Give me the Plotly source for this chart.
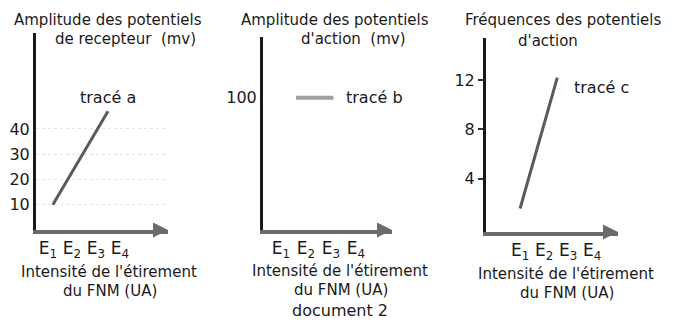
import plotly.graph_objects as go

# The page has an 8px body margin, so the figure is drawn 8px in from the
# top-left corner; the figure is sized to fit the 675x329 window.
OFF = 8
W, H = 675 - 2 * OFF, 329 - 2 * OFF

# ---- data ----
x_ticks = [1, 2, 3, 4]
x_ticktext = ["E<sub>1</sub>", "E<sub>2</sub>", "E<sub>3</sub>", "E<sub>4</sub>"]

a_x = [1.2, 3.5]
a_y = [10, 47]
a_ticks = [10, 20, 30, 40]

b_x = [1.6, 3.1]
b_y = [100, 100]
b_ticks = [100]

c_x = [1.0, 2.55]
c_y = [1.6, 12.2]
c_ticks = [4, 8, 12]

titles = [
    ("Amplitude des potentiels", "de recepteur  (mv)"),
    ("Amplitude des potentiels", "d'action  (mv)"),
    ("Fréquences des potentiels", "d'action"),
]
xtitle = ("Intensité de l'étirement", "du FNM (UA)")
trace_names = ["tracé a", "tracé b", "tracé c"]
caption = "document 2"

FONT = "DejaVu Sans"
TXT = "#1a1a1a"


def px(x):
    return (x - OFF) / W


def py(y):
    return 1 - (y - OFF) / H


fig = go.Figure()
fig.add_trace(go.Scatter(x=a_x, y=a_y, mode="lines", line=dict(color="#5a5a5a", width=3),
                         xaxis="x", yaxis="y", showlegend=False))
fig.add_trace(go.Scatter(x=b_x, y=b_y, mode="lines", line=dict(color="#a0a0a0", width=4),
                         xaxis="x2", yaxis="y2", showlegend=False))
fig.add_trace(go.Scatter(x=c_x, y=c_y, mode="lines", line=dict(color="#5a5a5a", width=3),
                         xaxis="x3", yaxis="y3", showlegend=False))

# panel geometry (pixels): (x_left, x_right, y_bottom, y_top), x-range, y-range
panels = [
    (36, 168, 230, 33, [0.5, 6.0], [0, 78], a_ticks, 0, True),
    (263, 392, 230, 37, [0.28, 5.44], [0, 146], b_ticks, 0, False),
    (486, 618, 232, 38, [-0.42, 5.08], [-0.3, 15.4], c_ticks, 5, False),
]

layout = dict(
    width=W, height=H, margin=dict(l=0, r=0, t=0, b=0),
    paper_bgcolor="white", plot_bgcolor="white",
    font=dict(family=FONT, color=TXT),
    showlegend=False,
)
annotations = []
for i, (xl, xr, yb, yt, xr_, yr_, yt_vals, tlen, grid) in enumerate(panels):
    sfx = "" if i == 0 else str(i + 1)
    layout["xaxis" + sfx] = dict(
        domain=[px(xl), px(xr)], range=xr_, anchor="y" + sfx,
        tickvals=x_ticks, ticktext=x_ticktext, ticks="",
        tickfont=dict(size=17, color=TXT, family=FONT),
        showline=True, linecolor="#6a6a6a", linewidth=4,
        showgrid=False, zeroline=False, fixedrange=True,
    )
    layout["yaxis" + sfx] = dict(
        domain=[py(yb), py(yt)], range=yr_, anchor="x" + sfx,
        tickvals=yt_vals, ticks="outside" if tlen else "", ticklen=tlen,
        tickwidth=2, tickcolor="#333",
        tickfont=dict(size=16, color=TXT, family=FONT),
        showline=True, linecolor="#1a1a1a", linewidth=3,
        showgrid=grid, gridcolor="#e4e4e4", griddash="dot", gridwidth=1,
        zeroline=False, fixedrange=True,
    )
    # x-axis arrow head
    annotations.append(dict(
        x=xr_[1], y=yr_[0], xref="x" + sfx, yref="y" + sfx,
        ax=-12, ay=0, axref="pixel", ayref="pixel",
        text="", showarrow=True, arrowhead=2, arrowsize=1, arrowwidth=3,
        arrowcolor="#6a6a6a",
    ))


def label(text, x, y, size):
    annotations.append(dict(text=text, x=px(x), y=py(y), xref="paper", yref="paper",
                            xanchor="center", yanchor="middle", showarrow=False,
                            font=dict(size=size, color=TXT, family=FONT)))


# titles
title_pos = [((108, 20), (125, 39)), ((335, 20), (353, 39)), ((563, 20), (548, 41))]
for (l1, l2), ((x1, y1), (x2, y2)) in zip(titles, title_pos):
    label(l1, x1, y1, 15)
    label(l2, x2, y2, 15)

# x titles
for cx, y1, y2 in [(109, 272, 291), (340, 271, 290), (566, 274, 293)]:
    label(xtitle[0], cx, y1, 15)
    label(xtitle[1], cx + 1, y2, 15)

# trace labels
for name, (cx, cy) in zip(trace_names, [(108, 97), (374, 98), (601, 87)]):
    label(name, cx, cy, 16)

label(caption, 340, 310, 16)

layout["annotations"] = annotations
fig.update_layout(**layout)
fig.write_html("out.html")
